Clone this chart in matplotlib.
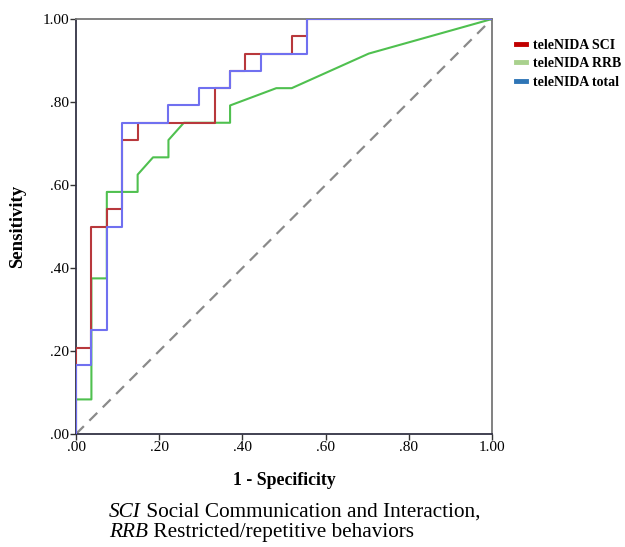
import numpy as np
import matplotlib
matplotlib.use("Agg")
import matplotlib.pyplot as plt
from matplotlib.lines import Line2D

# ROC curve vertices (1 - specificity, sensitivity)
sciX = [0, 0, 1/27, 1/27, 2/27, 2/27, 3/27, 3/27, 4/27, 4/27, 9/27, 9/27, 10/27, 10/27,
        11/27, 11/27, 14/27, 14/27, 15/27, 15/27, 1]
sciY = [0, 5/24, 5/24, 12/24, 12/24, 13/24, 13/24, 17/24, 17/24, 18/24, 18/24, 20/24, 20/24, 21/24,
        21/24, 22/24, 22/24, 23/24, 23/24, 1, 1]

rrbX = [0, 0, 1/27, 1/27, 2/27, 2/27, 4/27, 4/27, 5/27, 6/27, 6/27, 7/27, 10/27, 10/27,
        13/27, 14/27, 19/27, 1]
rrbY = [0, 2/24, 2/24, 9/24, 9/24, 14/24, 14/24, 15/24, 16/24, 16/24, 17/24, 18/24, 18/24, 19/24,
        20/24, 20/24, 22/24, 1]

totX = [0, 0, 1/27, 1/27, 2/27, 2/27, 3/27, 3/27, 6/27, 6/27, 8/27, 8/27, 10/27, 10/27,
        12/27, 12/27, 15/27, 15/27, 1]
totY = [0, 4/24, 4/24, 6/24, 6/24, 12/24, 12/24, 18/24, 18/24, 19/24, 19/24, 20/24, 20/24, 21/24,
        21/24, 22/24, 22/24, 1, 1]

tickVals = [0, 0.2, 0.4, 0.6, 0.8, 1.0]
tickLabels = [".00", ".20", ".40", ".60", ".80", "1.00"]
legendNames = ["teleNIDA SCI", "teleNIDA RRB", "teleNIDA total"]
captionLines = [("SCI", " Social Communication and Interaction,"),
                ("RRB", " Restricted/repetitive behaviors")]

plt.rcParams['font.family'] = ['Liberation Serif', 'DejaVu Serif']

fig = plt.figure(figsize=(6.25, 5.47), dpi=100)
ax = fig.add_axes([76/625, 1 - 434/547, 416/625, 415/547])

ax.plot([0, 1], [0, 1], color='#8a8a8a', lw=1.6, dashes=(5, 3.5), zorder=1)
ax.plot(rrbX, rrbY, color='#4fc04f', lw=1.5, zorder=2)
ax.plot(sciX, sciY, color='#b8383c', lw=1.5, zorder=3)
ax.plot(totX, totY, color='#7070f0', lw=1.5, zorder=4)

ax.set_xlim(0, 1)
ax.set_ylim(0, 1)
ax.set_xticks(tickVals)
ax.set_xticklabels(tickLabels)
ax.set_yticks(tickVals)
ax.set_yticklabels(tickLabels)
ax.tick_params(direction='out', length=4, width=1, labelsize=11, pad=1, color='#333333')
for side in ['top', 'right']:
    ax.spines[side].set_color('#777777')
    ax.spines[side].set_linewidth(1.3)
for side in ['left', 'bottom']:
    ax.spines[side].set_color('#333344')
    ax.spines[side].set_linewidth(1.3)

ax.set_xlabel("1 - Specificity", fontsize=12.8, fontweight='bold', labelpad=13)
ax.set_ylabel("Sensitivity", fontsize=13.5, fontweight='bold', labelpad=12)

handles = [Line2D([], [], color='#c00000', lw=3.5),
           Line2D([], [], color='#a9d18e', lw=3.5),
           Line2D([], [], color='#2e75b6', lw=3.5)]
leg = fig.legend(handles, legendNames, loc='upper left', bbox_to_anchor=(516/625, 1 - 39/547),
                 frameon=False, handlelength=0.75, handletextpad=0.5, labelspacing=0.38,
                 borderaxespad=0, borderpad=0, prop={'weight': 'bold', 'size': 10})

# caption: italic abbreviation followed by plain text, sharing a baseline
renderer = fig.canvas.get_renderer()
for i, (abbr, rest) in enumerate(captionLines):
    yPos = 1 - (517 + 20 * i) / 547
    t = fig.text(109/625, yPos, abbr, fontsize=15.3, fontstyle='italic', va='baseline')
    ext = t.get_window_extent(renderer=renderer)
    fig.text(ext.x1 / fig.bbox.width, yPos, rest, fontsize=15.3, va='baseline')

fig.savefig("out.png", dpi=100, facecolor='white')
